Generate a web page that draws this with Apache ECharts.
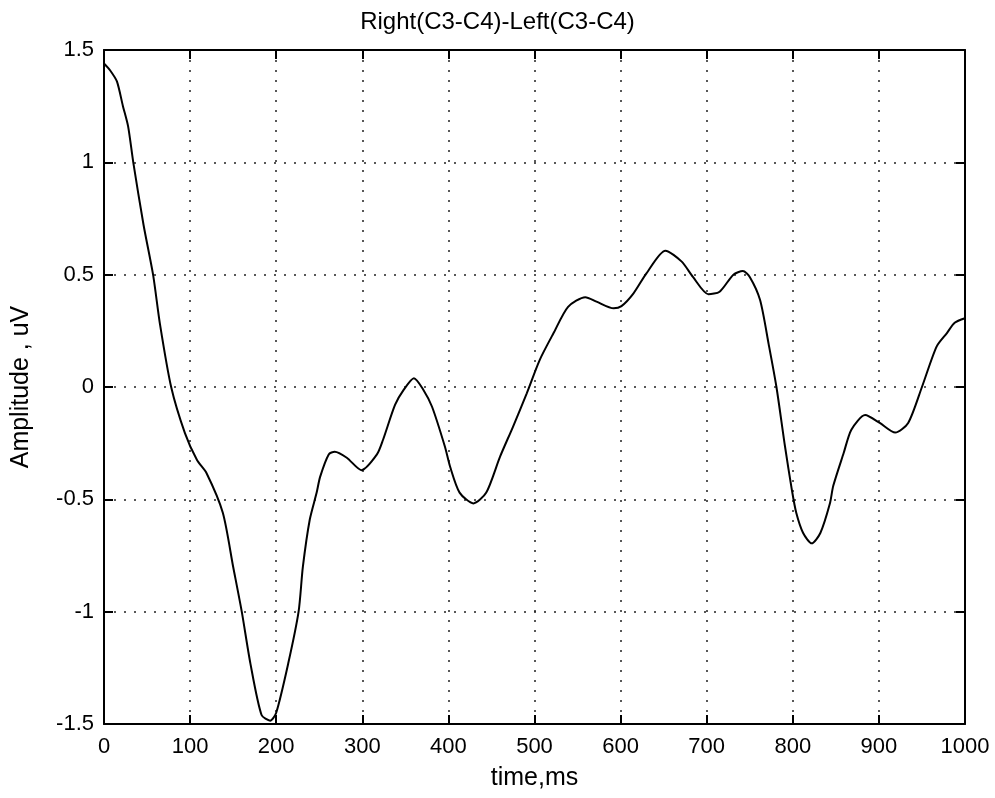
<!DOCTYPE html>
<html>
<head>
<meta charset="utf-8">
<script src="https://cdn.jsdelivr.net/npm/echarts@6/dist/echarts.min.js"></script>
<style>html,body{margin:0;padding:0;background:#fff}#c{width:995px;height:798px}</style>
</head>
<body>
<div id="c"></div>
<script>
var titleText = "Right(C3-C4)-Left(C3-C4)";
var xName = "time,ms";
var yName = "Amplitude , uV";
var xTicks = [0, 100, 200, 300, 400, 500, 600, 700, 800, 900, 1000];
var yTicks = [-1.5, -1, -0.5, 0, 0.5, 1, 1.5];
var timeMs = [0, 7, 15, 22, 28, 34, 46, 57, 65, 78, 94, 108, 119, 138, 150, 160, 170, 183, 193, 200, 214, 226, 231, 239, 247, 251, 261, 268, 282, 299, 317, 324, 338, 348, 360, 371, 381, 396, 402, 413, 429, 444, 460, 475, 491, 506, 522, 539, 559, 572, 592, 601, 615, 630, 652, 671, 684, 702, 715, 731, 742, 750, 762, 772, 781, 791, 799, 804, 812, 822, 832, 843, 847, 859, 868, 884, 901, 919, 934, 950, 967, 979, 988, 1000];
var amplitude = [1.44, 1.41, 1.36, 1.25, 1.16, 1.0, 0.72, 0.5, 0.28, 0.0, -0.205, -0.325, -0.383, -0.56, -0.80, -1.0, -1.23, -1.46, -1.485, -1.45, -1.23, -1.0, -0.80, -0.59, -0.47, -0.40, -0.30, -0.288, -0.315, -0.37, -0.30, -0.236, -0.08, -0.013, 0.039, -0.013, -0.088, -0.266, -0.355, -0.47, -0.518, -0.47, -0.31, -0.177, -0.028, 0.12, 0.239, 0.357, 0.40, 0.38, 0.35, 0.36, 0.417, 0.506, 0.607, 0.558, 0.49, 0.413, 0.424, 0.50, 0.516, 0.49, 0.387, 0.19, 0.0, -0.266, -0.46, -0.56, -0.65, -0.696, -0.65, -0.52, -0.44, -0.295, -0.19, -0.125, -0.16, -0.203, -0.16, 0.0, 0.18, 0.24, 0.286, 0.306];

var data = timeMs.map(function (t, i) { return [t, amplitude[i]]; });
var FONT = '"Liberation Sans", Arial, sans-serif';
var gridStyle = { show: true, lineStyle: { color: '#222', width: 1.5, type: [2, 8] } };
var lineStyleAxis = { show: true, onZero: false, lineStyle: { color: '#000', width: 2 } };
var tickIn = { show: true, inside: true, length: 9, lineStyle: { color: '#000', width: 2 } };
var plain = function (v) { return String(v); };

var chart = echarts.init(document.getElementById('c'), null, { renderer: 'canvas' });
chart.setOption({
  backgroundColor: '#fff',
  animation: false,
  title: {
    text: titleText, left: 'center', top: 5,
    textStyle: { fontFamily: FONT, fontSize: 24, fontWeight: 'normal', color: '#000' }
  },
  grid: { left: 104, right: 30, top: 50, bottom: 74 },
  xAxis: [{
    type: 'value', min: xTicks[0], max: xTicks[xTicks.length - 1], interval: 100,
    name: xName, nameLocation: 'middle', nameGap: 42,
    nameTextStyle: { fontFamily: FONT, fontSize: 25, color: '#000' },
    axisLine: lineStyleAxis, axisTick: tickIn,
    axisLabel: { margin: 12, fontFamily: FONT, fontSize: 22, color: '#000', formatter: plain },
    splitLine: gridStyle
  }, {
    type: 'value', position: 'top', min: xTicks[0], max: xTicks[xTicks.length - 1], interval: 100,
    axisLine: lineStyleAxis, axisTick: tickIn, axisLabel: { show: false }, splitLine: { show: false }
  }],
  yAxis: [{
    type: 'value', min: yTicks[0], max: yTicks[yTicks.length - 1], interval: 0.5,
    name: yName, nameLocation: 'middle', nameGap: 70,
    nameTextStyle: { fontFamily: FONT, fontSize: 25, color: '#000' },
    axisLine: lineStyleAxis, axisTick: tickIn,
    axisLabel: { margin: 10, fontFamily: FONT, fontSize: 22, color: '#000', formatter: plain },
    splitLine: gridStyle
  }, {
    type: 'value', position: 'right', min: yTicks[0], max: yTicks[yTicks.length - 1], interval: 0.5,
    axisLine: lineStyleAxis, axisTick: tickIn, axisLabel: { show: false }, splitLine: { show: false }
  }],
  series: [{
    type: 'line', data: data, xAxisIndex: 0, yAxisIndex: 0,
    showSymbol: false, smooth: 0.25,
    lineStyle: { color: '#000', width: 2 }
  }]
});
</script>
</body>
</html>
